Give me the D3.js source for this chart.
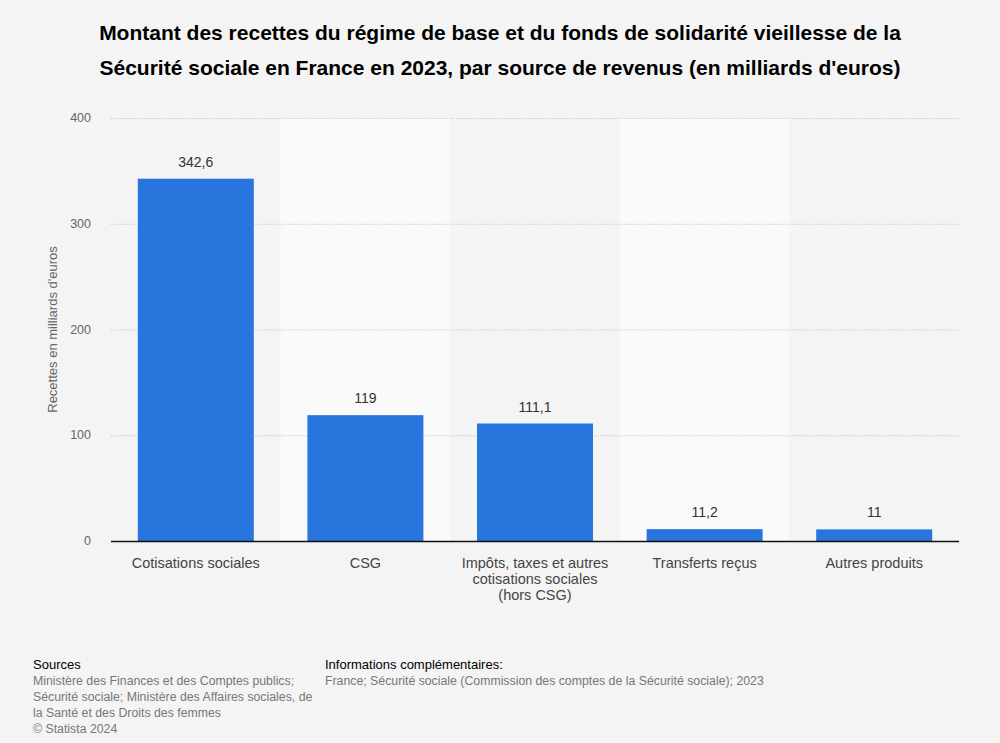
<!DOCTYPE html>
<html><head><meta charset="utf-8">
<script src="https://cdn.jsdelivr.net/npm/d3@7"></script>
<style>body{margin:0;background:#f4f4f4;}svg{display:block;font-family:"Liberation Sans",Arial,sans-serif;}</style>
</head><body><svg id="c" width="1000" height="743"></svg>
<script>
const categories = [["Cotisations sociales"],["CSG"],["Impôts, taxes et autres","cotisations sociales","(hors CSG)"],["Transferts reçus"],["Autres produits"]];
const values = [342.6, 119, 111.1, 11.2, 11];
const valueLabels = ["342,6","119","111,1","11,2","11"];
const yTicks = [0,100,200,300,400];
const titleLines = ["Montant des recettes du régime de base et du fonds de solidarité vieillesse de la","Sécurité sociale en France en 2023, par source de revenus (en milliards d'euros)"];
const sourcesLines = ["Ministère des Finances et des Comptes publics;","Sécurité sociale; Ministère des Affaires sociales, de","la Santé et des Droits des femmes","© Statista 2024"];
const infoLines = ["France; Sécurité sociale (Commission des comptes de la Sécurité sociale); 2023"];

const svg = d3.select("#c");
svg.append("rect").attr("width",1000).attr("height",743).attr("fill","#f4f4f4");
const L=111,R=959,T=118,B=541;
const x = d3.scaleBand().domain(d3.range(values.length)).range([L,R]).paddingInner(0.316).paddingOuter(0.158);
const xb = d3.scaleBand().domain(d3.range(values.length)).range([L,R]);
const y = d3.scaleLinear().domain([0,400]).range([B,T]);

svg.selectAll("rect.band").data(d3.range(values.length).filter(i=>i%2===1)).join("rect")
  .attr("x",i=>xb(i)).attr("y",T).attr("width",xb.bandwidth()).attr("height",B-T).attr("fill","#fafafa");

svg.selectAll("line.grid").data(yTicks.filter(d=>d>0)).join("line")
  .attr("x1",L).attr("x2",R).attr("y1",d=>y(d)+0.5).attr("y2",d=>y(d)+0.5)
  .attr("stroke","#c8c8c8").attr("stroke-dasharray","1.5,1.5").attr("stroke-width",1);

svg.selectAll("text.yt").data(yTicks).join("text")
  .attr("x",91).attr("y",d=>y(d)+4).attr("text-anchor","end")
  .attr("font-size",12.5).attr("fill","#666").text(d=>d);

svg.append("text").attr("transform",`translate(57,${(T+B)/2}) rotate(-90)`)
  .attr("text-anchor","middle").attr("font-size",13).attr("fill","#666").text("Recettes en milliards d'euros");

svg.selectAll("rect.bar").data(values).join("rect")
  .attr("x",(d,i)=>x(i)).attr("y",d=>y(d)).attr("width",x.bandwidth()).attr("height",d=>B-y(d))
  .attr("fill","#2876dd");

svg.selectAll("text.vl").data(values).join("text")
  .attr("x",(d,i)=>x(i)+x.bandwidth()/2).attr("y",d=>y(d)-12)
  .attr("text-anchor","middle").attr("font-size",14).attr("fill","#333").text((d,i)=>valueLabels[i]);

svg.append("line").attr("x1",L).attr("x2",R).attr("y1",B+0.5).attr("y2",B+0.5).attr("stroke","#111").attr("stroke-width",1.5);

categories.forEach((lines,i)=>{
  const t = svg.append("text").attr("x",xb(i)+xb.bandwidth()/2).attr("y",568)
    .attr("text-anchor","middle").attr("font-size",14.5).attr("fill","#444");
  lines.forEach((l,j)=>t.append("tspan").attr("x",xb(i)+xb.bandwidth()/2).attr("dy",j?16:0).text(l));
});

titleLines.forEach((l,j)=>svg.append("text").attr("x",500).attr("y",40+j*35).attr("text-anchor","middle")
  .attr("font-size",21).attr("font-weight","bold").attr("fill","#000").text(l));

svg.append("text").attr("x",33).attr("y",669).attr("font-size",13).attr("fill","#000").text("Sources");
sourcesLines.forEach((l,j)=>svg.append("text").attr("x",33).attr("y",685+j*16).attr("font-size",12.3).attr("fill","#777").text(l));
svg.append("text").attr("x",325).attr("y",669).attr("font-size",13).attr("fill","#000").text("Informations complémentaires:");
infoLines.forEach((l,j)=>svg.append("text").attr("x",325).attr("y",685+j*16).attr("font-size",12.3).attr("fill","#777").text(l));
</script></body></html>
